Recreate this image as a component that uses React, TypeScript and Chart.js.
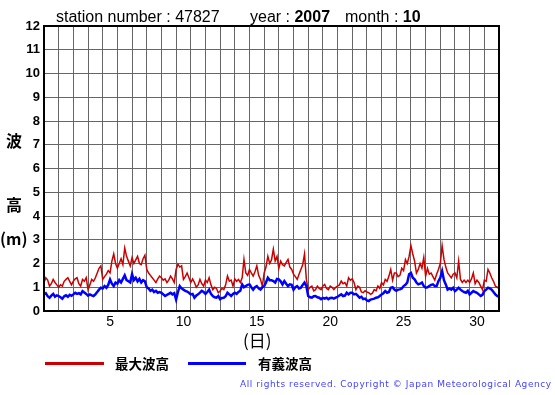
import React, { useEffect, useRef } from "react";
import { Chart, registerables } from "chart.js";

Chart.register(...registerables);

// x tick labels (day of month), y range
const xTickLabels = ["5", "10", "15", "20", "25", "30"];
const yTickMax = 12;
const dayCount = 31;
// sampling step of the series: 3 hours = 1/8 day
const stepDays = 0.125;

// 最大波高 (maximum wave height, m), 3-hourly from Oct 1 00h to Nov 1 00h
const maxWave = [
  1.20, 1.40, 1.30, 1.05, 1.15, 1.33, 1.20, 1.10,
  1.00, 1.10, 1.05, 1.25, 1.33, 1.40, 1.25, 1.10,
  1.26, 1.35, 1.40, 1.15, 1.05, 1.33, 1.25, 1.40,
  0.90, 1.10, 1.33, 1.25, 1.40, 1.60, 1.80, 1.90,
  1.33, 1.45, 1.55, 1.70, 1.60, 2.10, 2.40, 2.00,
  1.80, 2.00, 2.20, 1.95, 2.65, 2.30, 2.10, 1.90,
  2.25, 2.00, 2.15, 2.30, 2.00, 1.95, 2.20, 2.35,
  1.75, 1.60, 1.50, 1.40, 1.30, 1.20, 1.35, 1.47,
  1.40, 1.30, 1.35, 1.20, 1.30, 1.47, 1.35, 1.20,
  1.75, 1.97, 1.85, 1.90, 1.33, 1.45, 1.60, 1.40,
  1.20, 1.35, 1.20, 1.00, 1.10, 1.33, 1.15, 1.05,
  1.30, 1.20, 1.40, 1.10, 0.90, 1.00, 0.95, 0.77,
  0.84, 0.95, 0.90, 1.10, 1.47, 1.26, 1.30, 1.05,
  1.35, 1.25, 1.33, 1.20, 1.40, 2.17, 1.60, 1.50,
  1.75, 1.60, 1.47, 1.65, 1.90, 1.50, 1.33, 1.05,
  1.60, 1.85, 2.30, 2.00, 2.15, 2.60, 2.10, 2.30,
  1.80, 2.10, 1.95, 1.90, 2.05, 2.17, 1.85, 1.75,
  1.55, 1.45, 1.33, 1.55, 1.75, 1.95, 2.40, 1.33,
  0.90, 1.00, 1.05, 0.85, 0.90, 1.05, 0.95, 0.90,
  1.05, 1.12, 0.95, 0.90, 1.05, 1.00, 0.90, 1.00,
  1.05, 1.10, 1.26, 1.15, 1.20, 1.05, 1.40, 1.30,
  1.35, 1.20, 0.90, 1.05, 1.00, 0.80, 0.77, 0.85,
  0.80, 0.77, 0.70, 0.75, 0.90, 0.85, 1.05, 0.95,
  1.20, 1.10, 1.33, 1.25, 1.47, 1.75, 1.30, 1.60,
  1.60, 1.45, 1.50, 1.80, 1.70, 2.17, 2.00, 2.30,
  2.75, 2.40, 2.10, 1.60, 1.75, 2.00, 1.80, 2.25,
  1.47, 1.80, 1.55, 1.60, 1.45, 1.30, 1.55, 1.75,
  2.00, 2.75, 2.17, 1.85, 1.60, 1.50, 1.40, 1.55,
  1.60, 1.40, 2.10, 1.33, 1.20, 1.30, 1.20, 1.30,
  1.20, 1.35, 1.60, 1.15, 1.30, 1.20, 1.05, 0.90,
  1.30, 1.25, 1.75, 1.60, 1.40, 1.25, 1.05, 1.00,
  0.95,
];

// 有義波高 (significant wave height, m), same sampling
const sigWave = [
  0.70, 0.75, 0.62, 0.56, 0.65, 0.72, 0.60, 0.66,
  0.63, 0.58, 0.52, 0.62, 0.66, 0.60, 0.68, 0.64,
  0.70, 0.77, 0.72, 0.75, 0.70, 0.84, 0.78, 0.72,
  0.65, 0.70, 0.66, 0.63, 0.70, 0.80, 0.90, 0.98,
  0.95, 1.05, 0.98, 1.10, 1.33, 1.15, 1.05, 1.20,
  1.15, 1.30, 1.20, 1.35, 1.50, 1.30, 1.25, 1.20,
  1.55, 1.30, 1.40, 1.25, 1.35, 1.20, 1.30, 1.25,
  1.00, 0.95, 0.85, 0.90, 0.80, 0.85, 0.77, 0.80,
  0.77, 0.70, 0.63, 0.68, 0.72, 0.77, 0.70, 0.75,
  0.48, 0.80, 1.05, 0.95, 0.90, 0.85, 0.82, 0.77,
  0.70, 0.72, 0.56, 0.65, 0.70, 0.77, 0.85, 0.80,
  0.72, 0.80, 0.90, 0.72, 0.63, 0.58, 0.56, 0.63,
  0.50, 0.55, 0.56, 0.62, 0.77, 0.70, 0.63, 0.72,
  0.77, 0.72, 0.80, 0.85, 1.12, 1.00, 1.05, 1.10,
  1.12, 1.00, 0.90, 1.00, 1.05, 0.95, 0.90, 1.00,
  1.05, 1.20, 1.40, 1.30, 1.30, 1.26, 1.20, 1.35,
  1.33, 1.25, 1.12, 1.26, 1.15, 1.05, 1.12, 1.10,
  0.90, 1.00, 1.05, 0.95, 0.98, 1.10, 1.20, 1.05,
  0.63, 0.58, 0.56, 0.62, 0.63, 0.58, 0.56, 0.50,
  0.55, 0.52, 0.56, 0.50, 0.55, 0.56, 0.52, 0.56,
  0.60, 0.65, 0.70, 0.63, 0.65, 0.77, 0.70, 0.77,
  0.77, 0.70, 0.72, 0.65, 0.56, 0.60, 0.50, 0.52,
  0.45, 0.42, 0.48, 0.50, 0.52, 0.56, 0.58, 0.63,
  0.70, 0.75, 0.84, 0.77, 0.80, 0.98, 1.00, 0.90,
  0.85, 0.90, 0.91, 0.95, 1.05, 1.10, 1.20, 1.55,
  1.60, 1.40, 1.33, 1.20, 1.12, 1.15, 1.20, 1.05,
  0.98, 1.00, 1.05, 1.10, 1.12, 1.05, 1.05, 1.26,
  1.40, 1.68, 1.30, 1.12, 0.90, 0.95, 0.90, 0.98,
  0.84, 0.90, 0.98, 0.90, 0.84, 0.80, 0.77, 0.85,
  0.70, 0.77, 0.84, 0.80, 0.77, 0.70, 0.63, 0.68,
  0.84, 0.90, 0.98, 0.95, 0.90, 0.80, 0.70, 0.63,
  0.60,
];

const SANS = '"Liberation Sans", Arial, Helvetica, sans-serif';
const CJK = '"Noto Sans CJK JP", "Noto Sans CJK SC", sans-serif';

export default function App() {
  const ref = useRef<HTMLCanvasElement>(null);

  useEffect(() => {
    const toPts = (arr: number[]) => arr.map((v, i) => ({ x: i * stepDays, y: v }));
    const labelPos = xTickLabels.map((l) => Number(l) - 0.5);

    const frame = {
      id: "frame",
      afterDatasetsDraw(chart: any) {
        const { ctx, chartArea: a } = chart;
        ctx.save();
        ctx.strokeStyle = "#000";
        ctx.lineWidth = 2;
        ctx.strokeRect(a.left, a.top, a.right - a.left, a.bottom - a.top);
        ctx.restore();
      },
    };

    const chart = new Chart(ref.current as HTMLCanvasElement, {
      type: "line",
      data: {
        datasets: [
          {
            label: "有義波高",
            data: toPts(sigWave),
            borderColor: "#0000ff",
            borderWidth: 2.5,
            pointRadius: 0,
            tension: 0,
          },
          {
            label: "最大波高",
            data: toPts(maxWave),
            borderColor: "#cc0000",
            borderWidth: 1.5,
            pointRadius: 0,
            tension: 0,
          },
        ],
      },
      options: {
        responsive: false,
        animation: false,
        events: [],
        layout: { padding: { top: 26, right: 56, left: 0, bottom: 0 } },
        plugins: {
          legend: { display: false },
          tooltip: { enabled: false },
          title: { display: false },
        },
        scales: {
          x: {
            type: "linear",
            min: 0,
            max: dayCount,
            afterBuildTicks: (s: any) => {
              const t: { value: number }[] = [];
              for (let i = 0; i <= dayCount; i++) t.push({ value: i });
              labelPos.forEach((v) => t.push({ value: v }));
              t.sort((a, b) => a.value - b.value);
              s.ticks = t;
            },
            afterFit: (s: any) => {
              s.height = 84;
            },
            grid: {
              color: (c: any) =>
                c.tick && Number.isInteger(c.tick.value) ? "#666" : "rgba(0,0,0,0)",
              lineWidth: 1,
              drawTicks: false,
            },
            border: { color: "#000", width: 2 },
            ticks: {
              autoSkip: false,
              maxRotation: 0,
              padding: 3,
              color: "#000",
              font: { family: SANS, size: 14 },
              callback: (v: any) => {
                const i = labelPos.indexOf(Number(v));
                return i >= 0 ? xTickLabels[i] : "";
              },
            },
          },
          y: {
            min: 0,
            max: yTickMax,
            afterFit: (s: any) => {
              s.width = 44;
            },
            ticks: {
              stepSize: 1,
              padding: 4,
              color: "#000",
              font: { family: SANS, size: 13, weight: "bold" },
            },
            grid: { color: "#666", lineWidth: 1, drawTicks: false },
            border: { color: "#000", width: 2 },
          },
        },
      } as any,
      plugins: [frame],
    });
    return () => chart.destroy();
  }, []);

  const abs = (extra: React.CSSProperties): React.CSSProperties => ({
    position: "absolute",
    whiteSpace: "nowrap",
    color: "#000",
    ...extra,
  });

  return (
    <div
      style={{
        position: "fixed",
        left: 0,
        top: 0,
        width: 555,
        height: 395,
        background: "#fff",
        overflow: "hidden",
      }}
    >
      <canvas ref={ref} width={555} height={395} style={{ position: "absolute", left: 0, top: 0, width: 555, height: 395 }} />
      {/* title */}
      <div style={abs({ left: 56, top: 9, fontFamily: SANS, fontSize: 16, lineHeight: "16px" })}>
        station number : 47827
      </div>
      <div style={abs({ left: 250, top: 9, fontFamily: SANS, fontSize: 16, lineHeight: "16px" })}>
        year : <b>2007</b>
      </div>
      <div style={abs({ left: 345, top: 9, fontFamily: SANS, fontSize: 16, lineHeight: "16px" })}>
        month : <b>10</b>
      </div>
      {/* y axis title */}
      <div style={abs({ left: 6, top: 132, fontFamily: CJK, fontSize: 16, lineHeight: "16px", fontWeight: "bold" })}>波</div>
      <div style={abs({ left: 6, top: 196, fontFamily: CJK, fontSize: 16, lineHeight: "16px", fontWeight: "bold" })}>高</div>
      <div style={abs({ left: 0, top: 230, fontFamily: CJK, fontSize: 16, lineHeight: "16px", fontWeight: "bold" })}>(m)</div>
      {/* x axis title */}
      <div style={abs({ left: 243, top: 331, fontFamily: CJK, fontSize: 17, lineHeight: "17px" })}>(日)</div>
      {/* legend */}
      <div style={abs({ left: 45, top: 362, width: 59, height: 3, background: "#cc0000" })} />
      <div style={abs({ left: 115, top: 356, fontFamily: CJK, fontSize: 13.5, lineHeight: "14px", fontWeight: "bold" })}>最大波高</div>
      <div style={abs({ left: 188, top: 362, width: 58, height: 3, background: "#0000ff" })} />
      <div style={abs({ left: 258, top: 356, fontFamily: CJK, fontSize: 13.5, lineHeight: "14px", fontWeight: "bold" })}>有義波高</div>
      {/* copyright */}
      <div style={abs({ left: 240, top: 379, fontFamily: '"DejaVu Sans", sans-serif', fontSize: 9, lineHeight: "10px", letterSpacing: "0.58px", color: "#4444ff" })}>
        All rights reserved. Copyright © Japan Meteorological Agency
      </div>
    </div>
  );
}
